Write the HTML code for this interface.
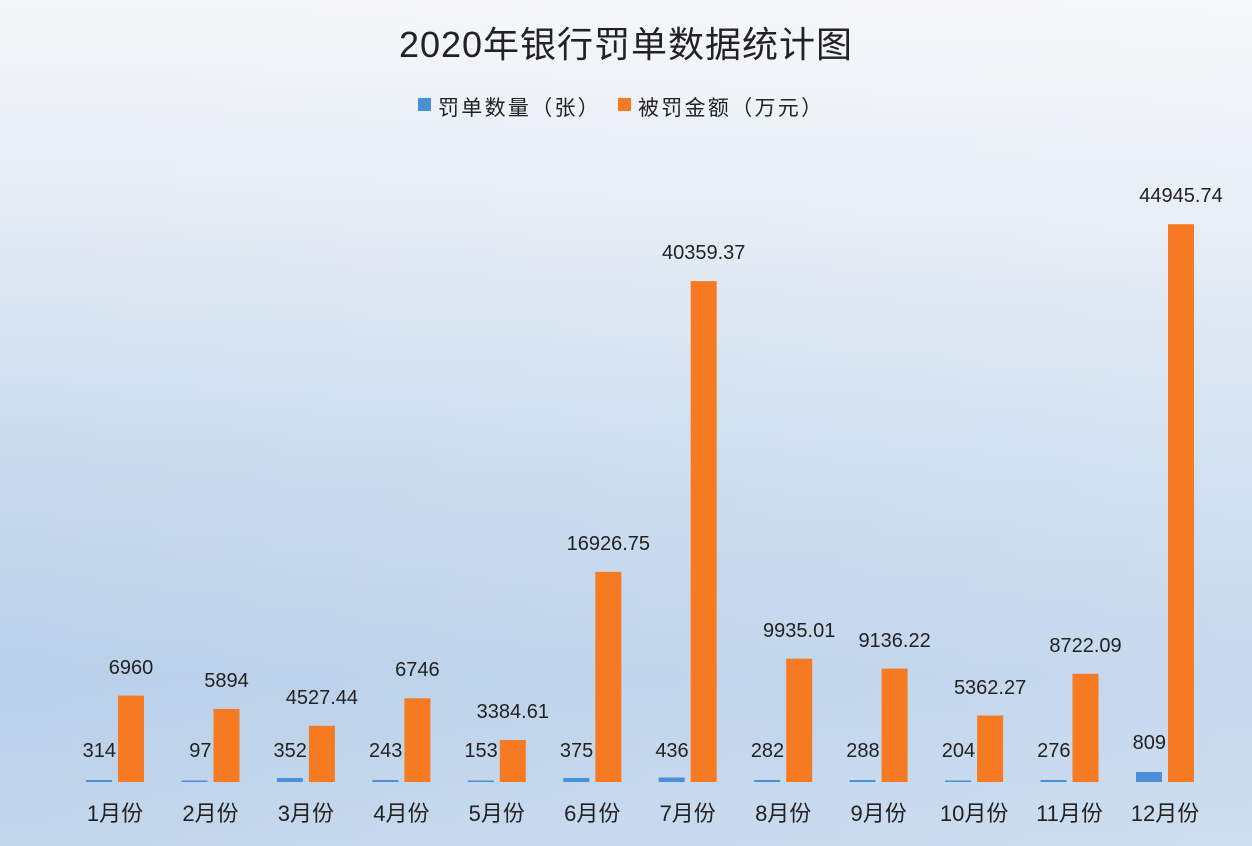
<!DOCTYPE html>
<html><head><meta charset="utf-8"><style>
html,body{margin:0;padding:0;}
body{width:1252px;height:846px;overflow:hidden;background:linear-gradient(180deg,#f5f6f9 0%,#e3ebf4 25%,#c8daed 55%,#b9d0e9 80%,#c2d6ec 100%);}
svg{display:block;}
text{font-family:"Liberation Sans","Noto Sans CJK SC",sans-serif;fill:#222;}
</style></head><body>
<svg width="1252" height="846" viewBox="0 0 1252 846">
<defs><linearGradient id="g" x1="0" y1="0" x2="1" y2="0"><stop offset="0" stop-color="#fff" stop-opacity="0"/><stop offset="1" stop-color="#fff" stop-opacity="0.2"/></linearGradient></defs>
<rect width="1252" height="846" fill="url(#g)"/>
<text x="626" y="57" font-size="36" text-anchor="middle" fill="#333" letter-spacing="1">2020年银行罚单数据统计图</text>
<rect x="418" y="98" width="13" height="13" fill="#4a90d9"/>
<text x="438" y="115" font-size="21" fill="#333" letter-spacing="2.3">罚单数量（张）</text>
<rect x="618" y="98" width="13" height="13" fill="#f57a22"/>
<text x="638" y="115" font-size="21" fill="#333" letter-spacing="2.3">被罚金额（万元）</text>
<g fill="#f57a22">
<rect x="118" y="695.6" width="26" height="86.4"/>
<rect x="213.5" y="708.9" width="26" height="73.1"/>
<rect x="308.9" y="725.8" width="26" height="56.2"/>
<rect x="404.4" y="698.3" width="26" height="83.7"/>
<rect x="499.8" y="740" width="26" height="42"/>
<rect x="595.3" y="571.9" width="26" height="210.1"/>
<rect x="690.7" y="281.1" width="26" height="500.9"/>
<rect x="786.2" y="658.7" width="26" height="123.3"/>
<rect x="881.6" y="668.6" width="26" height="113.4"/>
<rect x="977.1" y="715.5" width="26" height="66.5"/>
<rect x="1072.5" y="673.8" width="26" height="108.2"/>
<rect x="1168" y="224.2" width="26" height="557.8"/>
</g>
<g fill="#4a90d9">
<rect x="86" y="780" width="26" height="2"/>
<rect x="181.5" y="780.5" width="26" height="1.5"/>
<rect x="276.9" y="778" width="26" height="4"/>
<rect x="372.4" y="780" width="26" height="2"/>
<rect x="467.8" y="780.5" width="26" height="1.5"/>
<rect x="563.3" y="778" width="26" height="4"/>
<rect x="658.7" y="777.5" width="26" height="4.5"/>
<rect x="754.2" y="780" width="26" height="2"/>
<rect x="849.6" y="780" width="26" height="2"/>
<rect x="945.1" y="780.5" width="26" height="1.5"/>
<rect x="1040.5" y="780" width="26" height="2"/>
<rect x="1136" y="772" width="26" height="10"/>
</g>
<g font-size="20" text-anchor="middle">
<text x="131" y="674">6960</text>
<text x="226.5" y="687">5894</text>
<text x="321.9" y="704">4527.44</text>
<text x="417.4" y="676">6746</text>
<text x="512.8" y="718">3384.61</text>
<text x="608.3" y="550">16926.75</text>
<text x="703.7" y="259">40359.37</text>
<text x="799.2" y="637">9935.01</text>
<text x="894.6" y="647">9136.22</text>
<text x="990.1" y="694">5362.27</text>
<text x="1085.5" y="652">8722.09</text>
<text x="1181" y="202">44945.74</text>
</g>
<g font-size="20" text-anchor="end">
<text x="116" y="757">314</text>
<text x="211.5" y="757">97</text>
<text x="306.9" y="757">352</text>
<text x="402.4" y="757">243</text>
<text x="497.8" y="757">153</text>
<text x="593.3" y="757">375</text>
<text x="688.7" y="757">436</text>
<text x="784.2" y="757">282</text>
<text x="879.6" y="757">288</text>
<text x="975.1" y="757">204</text>
<text x="1070.5" y="757">276</text>
<text x="1166" y="749">809</text>
</g>
<g font-size="22" text-anchor="middle" fill="#333">
<text x="115" y="821">1月份</text>
<text x="210.5" y="821">2月份</text>
<text x="305.9" y="821">3月份</text>
<text x="401.4" y="821">4月份</text>
<text x="496.8" y="821">5月份</text>
<text x="592.3" y="821">6月份</text>
<text x="687.7" y="821">7月份</text>
<text x="783.2" y="821">8月份</text>
<text x="878.6" y="821">9月份</text>
<text x="974.1" y="821">10月份</text>
<text x="1069.5" y="821">11月份</text>
<text x="1165" y="821">12月份</text>
</g>
</svg>
</body></html>
